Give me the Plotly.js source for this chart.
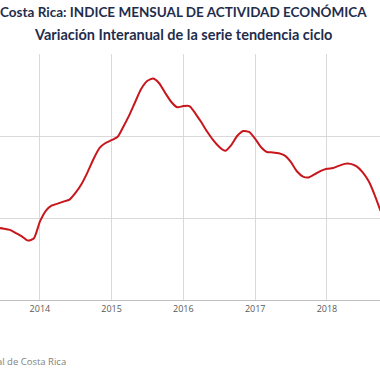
<!DOCTYPE html>
<html>
<head>
<meta charset="utf-8">
<script src="https://cdn.plot.ly/plotly-3.0.1.min.js"></script>
<style>html,body{margin:0;padding:0;background:#fff;}#chart{width:380px;height:380px;}</style>
</head>
<body>
<div id="chart"></div>
<script>
const months = [
 '2013-06-01','2013-07-01','2013-08-01','2013-09-01','2013-10-01','2013-11-01','2013-12-01',
 '2014-01-01','2014-02-01','2014-03-01','2014-04-01','2014-05-01','2014-06-01','2014-07-01','2014-08-01','2014-09-01','2014-10-01','2014-11-01','2014-12-01',
 '2015-01-01','2015-02-01','2015-03-01','2015-04-01','2015-05-01','2015-06-01','2015-07-01','2015-08-01','2015-09-01','2015-10-01','2015-11-01','2015-12-01',
 '2016-01-01','2016-02-01','2016-03-01','2016-04-01','2016-05-01','2016-06-01','2016-07-01','2016-08-01','2016-09-01','2016-10-01','2016-11-01','2016-12-01',
 '2017-01-01','2017-02-01','2017-03-01','2017-04-01','2017-05-01','2017-06-01','2017-07-01','2017-08-01','2017-09-01','2017-10-01','2017-11-01','2017-12-01',
 '2018-01-01','2018-02-01','2018-03-01','2018-04-01','2018-05-01','2018-06-01','2018-07-01','2018-08-01','2018-09-01','2018-10-01'
];
const variacion = [
 1.76,1.74,1.71,1.63,1.55,1.45,1.50,
 1.91,2.18,2.30,2.35,2.40,2.45,2.61,2.83,3.12,3.44,3.71,3.83,
 3.90,3.98,4.22,4.51,4.83,5.15,5.34,5.40,5.28,5.05,4.83,4.70,
 4.73,4.73,4.56,4.34,4.11,3.90,3.74,3.64,3.78,4.00,4.12,4.10,
 3.93,3.72,3.61,3.60,3.58,3.52,3.37,3.14,3.01,2.99,3.07,3.15,
 3.20,3.22,3.27,3.32,3.32,3.26,3.12,2.90,2.56,2.17
];
const titleLine1 = 'Costa Rica: INDICE MENSUAL DE ACTIVIDAD ECONÓMICA';
const titleLine2 = 'Variación Interanual de la serie tendencia ciclo';
const sourceText = 'Fuente: Banco Central de Costa Rica';

const trace = {
  x: months, y: variacion, type: 'scatter', mode: 'lines',
  line: {color: '#c8161d', width: 2, shape: 'spline', smoothing: 0.6},
  hoverinfo: 'skip'
};

const layout = {
  width: 380, height: 380,
  margin: {l: 0, r: 0, t: 54, b: 80},
  paper_bgcolor: '#ffffff', plot_bgcolor: '#ffffff',
  showlegend: false,
  xaxis: {
    type: 'date',
    range: ['2013-06-12', '2018-09-28'],
    tick0: '2014-01-01', dtick: 'M12', tickformat: '%Y',
    showgrid: true, gridcolor: '#d9d9d9', gridwidth: 1,
    showline: true, linecolor: '#bfbfbf', linewidth: 1,
    ticks: '', zeroline: false,
    tickfont: {family: 'Open Sans, sans-serif', size: 9, color: '#595959'}
  },
  yaxis: {
    range: [0, 6], dtick: 2,
    showticklabels: false, showgrid: true, gridcolor: '#d9d9d9', gridwidth: 1,
    zeroline: false, showline: false, ticks: ''
  },
  annotations: [
    {text: '<b>' + titleLine1 + '</b>', xref: 'paper', yref: 'paper', x: 0.482, y: 1.171,
     xanchor: 'center', yanchor: 'middle', showarrow: false,
     font: {family: 'Lato, sans-serif', size: 13.5, color: '#1f2d4d'}},
    {text: '<b>' + titleLine2 + '</b>', xref: 'paper', yref: 'paper', x: 0.482, y: 1.081,
     xanchor: 'center', yanchor: 'middle', showarrow: false,
     font: {family: 'Lato, sans-serif', size: 14.5, color: '#1f2d4d'}},
    {text: sourceText, xref: 'paper', yref: 'paper', x: 0.179, y: -0.248,
     xanchor: 'right', yanchor: 'middle', showarrow: false,
     font: {family: 'Open Sans, sans-serif', size: 9.5, color: '#7f7f7f'}}
  ]
};

Plotly.newPlot('chart', [trace], layout, {staticPlot: true, displayModeBar: false});
</script>
</body>
</html>
